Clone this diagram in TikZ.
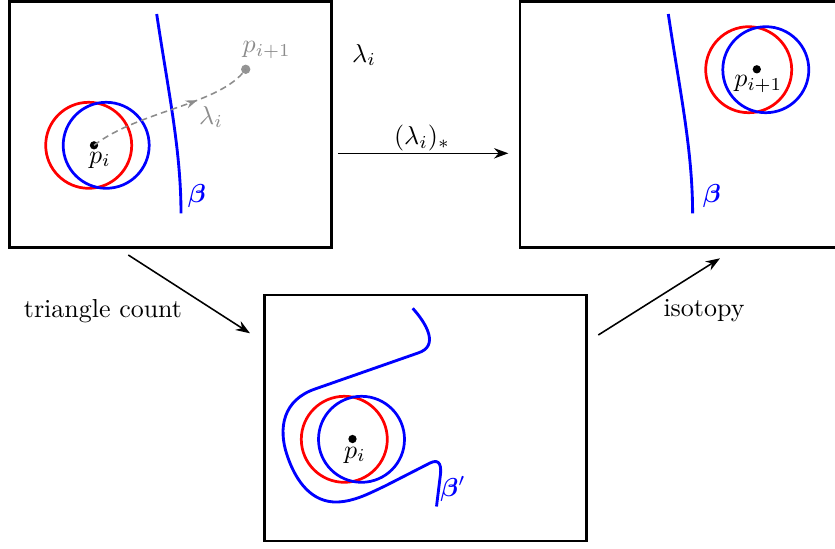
\documentclass[tikz,border=0pt]{standalone}
\usepackage{bm}
\usetikzlibrary{arrows.meta,decorations.markings}
\begin{document}
\begin{tikzpicture}[x=0.385pt,y=-0.385pt,
  panel/.style={draw=black,line width=1pt,minimum width=124pt,minimum height=94.7pt,inner sep=0pt},
  curveb/.style={blue,line width=1.1pt},
  ring/.style={line width=1.05pt},
  blackdot/.style={circle,fill=black,inner sep=0pt,minimum size=3.2pt},
  greydot/.style={circle,fill=black!42,inner sep=0pt,minimum size=3.6pt},
  conn/.style={-{Stealth[length=5.5pt,width=4pt,inset=1.8pt]},line width=0.6pt},
  lbl/.style={inner sep=0pt}]
\useasboundingbox (0,0) rectangle (835,548);

% panels
\node[panel] (box1) at (170.5,124.5) {};
\node[panel] (box2) at (681,124.5) {};
\node[panel] (box3) at (425.5,418) {};

% ---- panel 1 ----
\draw[red,ring] (88.7,145.3) circle (43);
\draw[blue,ring] (106.2,145.3) circle (43);
\draw[curveb] (156.7,14) .. controls (168,90) and (181,150) .. (181,213.3);
\node[blackdot] (pt1) at (94,145.3) {};
\node[greydot] (pt2) at (245.7,69.3) {};
\draw[black!45,line width=0.6pt,dash pattern=on 2.5pt off 1.6pt,
  postaction={decorate},
  decoration={markings,mark=at position 0.66 with {\arrow{Stealth[length=4.5pt,width=3.2pt,inset=1.5pt]}}}]
  (pt1.center) .. controls (140,110) and (220,105) .. (pt2.center);
\node[lbl] (lpi1) at (100,160) {$p_i$};
\node[lbl,black!45] (lpn1) at (266.7,50) {$p_{i+1}$};
\node[lbl,black!45] (llam1) at (211,117) {$\lambda_i$};
\node[lbl,blue] (lb1) at (197,196) {$\bm{\beta}$};

% ---- panel 2 ----
\draw[red,ring] (748.7,69.7) circle (43);
\draw[blue,ring] (765.8,69.7) circle (43);
\draw[curveb] (668.3,14) .. controls (679.6,90) and (692.6,150) .. (692.6,213.3);
\node[blackdot] (pt3) at (756.8,69.3) {};
\node[lbl] (lpn2) at (758.3,84) {$p_{i+1}$};
\node[lbl,blue] (lb2) at (712,196) {$\bm{\beta}$};

% ---- panel 3 ----
\draw[red,ring] (344.3,439.3) circle (43);
\draw[blue,ring] (361.5,439.3) circle (43);
\draw[curveb] (412.7,308.3) .. controls (426,323) and (440,346) .. (418,353)
  -- (315,389)
  .. controls (283,400) and (278,428) .. (287,455)
  .. controls (296,482) and (312,503) .. (338,502)
  .. controls (355,501) and (368,494) .. (385,486)
  -- (430,463)
  .. controls (440,458) and (442,466) .. (440,478)
  -- (436.5,506.5);
\node[blackdot] (pt4) at (352.5,439) {};
\node[lbl] (lpi3) at (355,455) {$p_i$};
\node[lbl,blue] (lb3) at (453,489) {$\bm{\beta}'$};

% ---- connectors ----
\coordinate (h1) at (338.3,153.3);
\coordinate (h2) at (508.3,153.3);
\draw[conn] (h1) -- (h2);
\node[lbl] (lstar) at (422,138) {$(\lambda_i)_*$};
\node[lbl] (ltop) at (364,55) {$\lambda_i$};

\coordinate (d1) at (128.3,255);
\coordinate (d2) at (250,333.3);
\draw[conn] (d1) -- (d2);
\node[lbl] (ltri) at (103,311) {triangle count};

\coordinate (u1) at (598.3,335);
\coordinate (u2) at (720,258.3);
\draw[conn] (u1) -- (u2);
\node[lbl] (liso) at (704,311) {isotopy};
\end{tikzpicture}
\end{document}
